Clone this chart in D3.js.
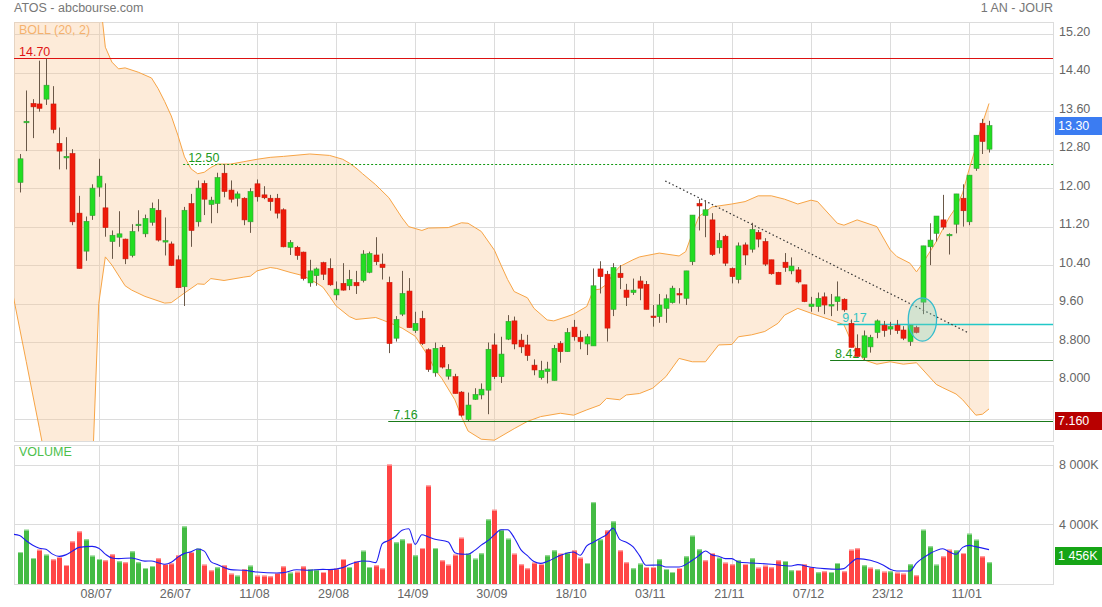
<!DOCTYPE html>
<html>
<head>
<meta charset="utf-8">
<script src="https://cdn.jsdelivr.net/npm/d3@7/dist/d3.min.js"></script>
<style>
  body { margin: 0; background: #fff; }
  svg { display: block; font-family: "Liberation Sans", Arial, sans-serif; }
</style>
</head>
<body>
<div class="chart"></div>
<script>
// ATOS daily, 22/06 -> 16/01 (one value per trading day)
const opens = [12.12,13.37,13.76,13.75,13.85,13.75,12.93,12.64,12.72,11.48,10.69,11.43,12.02,11.59,10.89,10.98,10.94,10.60,11.22,11.05,
  11.29,11.54,10.89,10.84,10.51,9.95,11.68,11.30,12.10,11.66,11.68,12.31,11.96,11.79,11.79,11.30,12.09,11.86,11.79,11.79,
  11.55,10.77,10.77,10.67,10.03,10.18,10.45,10.33,9.78,10.02,9.97,10.04,10.08,10.25,10.61,10.42,10.04,8.88,9.38,9.86,
  9.04,9.29,8.64,8.16,8.69,8.09,8.08,7.76,7.19,7.61,7.70,7.80,8.74,8.08,8.86,9.24,8.84,8.74,8.32,8.06,
  8.19,8.00,8.77,8.60,9.11,8.90,8.76,8.72,10.32,10.21,9.48,10.23,9.88,9.83,10.07,10.00,9.34,9.33,9.50,9.62,
  9.81,9.71,10.47,11.68,11.43,11.34,10.76,11.00,10.33,10.10,10.82,10.73,11.08,10.89,10.51,10.25,10.46,10.28,10.30,9.99,
  9.54,9.54,9.74,9.57,9.64,9.69,9.19,8.67,8.48,8.70,9.00,9.15,9.07,9.15,9.05,8.81,9.10,9.63,10.78,11.06,
  11.34,11.01,11.25,11.79,11.30,12.41,13.35,12.81];
const highs = [12.71,14.03,13.85,14.65,14.70,14.12,13.26,13.06,12.81,11.84,11.41,12.08,12.61,12.10,11.12,11.52,10.95,11.25,11.54,11.45,
  11.70,11.77,11.39,10.89,10.60,11.61,11.88,12.16,12.16,11.82,12.32,12.50,12.16,11.93,11.81,12.00,12.18,12.04,11.86,11.88,
  11.58,10.92,10.80,10.68,10.51,10.35,10.47,10.54,10.06,10.44,10.30,10.28,10.71,10.68,10.98,10.64,10.16,9.34,10.28,10.13,
  9.43,9.45,8.67,8.79,8.74,8.34,8.14,7.78,7.75,7.84,7.94,8.79,8.98,8.91,9.36,9.33,8.97,8.95,8.44,8.41,
  8.39,8.74,8.82,9.09,9.26,9.04,8.97,10.33,10.48,10.28,10.44,10.40,10.01,10.12,10.17,10.07,9.57,9.80,9.79,9.97,
  9.92,10.28,11.44,11.77,11.75,11.48,11.07,11.03,10.35,10.87,10.87,11.28,11.13,10.96,10.51,10.26,10.65,10.56,10.36,9.99,
  9.74,9.83,9.83,9.80,10.06,9.71,9.27,8.96,9.04,8.95,9.27,9.24,9.22,9.26,9.13,9.15,9.14,10.80,11.27,11.42,
  11.86,11.06,11.88,12.08,12.27,13.10,13.44,13.40];
const lows = [11.91,12.77,13.04,13.59,13.73,13.14,12.39,12.39,11.23,10.33,10.49,11.34,11.82,10.99,10.53,10.78,10.42,10.56,11.10,10.98,
  11.22,10.89,10.60,10.38,9.93,9.55,10.78,11.20,11.44,11.27,11.48,11.81,11.70,11.62,11.23,11.07,11.72,11.77,11.53,11.37,
  10.77,10.61,10.51,10.08,9.95,9.97,10.09,9.97,9.67,9.87,9.88,9.80,10.04,10.23,10.40,10.10,8.57,8.81,9.34,9.10,
  8.99,8.74,8.18,8.08,8.25,8.02,7.73,7.25,7.16,7.60,7.61,7.30,8.03,7.95,8.84,8.65,8.57,8.41,8.11,8.02,
  7.94,8.00,8.37,8.60,8.83,8.65,8.53,8.72,9.81,8.81,9.34,9.90,9.55,9.78,9.67,9.48,9.12,9.20,9.20,9.60,
  9.60,9.57,10.40,11.12,10.98,10.59,10.64,10.38,10.02,10.02,10.40,10.66,10.77,10.38,10.20,10.00,10.26,10.21,10.02,9.63,
  9.43,9.43,9.38,9.34,9.45,9.43,8.69,8.50,8.42,8.58,8.88,8.91,8.95,8.97,8.84,8.72,8.98,9.38,10.40,10.89,
  11.14,10.62,11.06,11.20,11.23,12.36,12.71,12.74];
const closes = [12.61,13.39,13.69,13.66,14.14,13.22,12.77,12.66,11.30,10.33,11.31,12.00,12.25,11.18,11.02,11.05,10.53,11.10,11.25,11.37,
  11.58,10.92,10.91,10.39,9.93,11.54,11.12,12.00,11.77,11.75,12.22,11.93,11.77,11.88,11.34,11.93,11.82,11.80,11.72,11.48,
  10.78,10.87,10.60,10.12,10.28,10.32,10.21,9.99,9.90,9.88,10.10,9.97,10.63,10.64,10.47,10.35,8.77,9.27,9.81,9.10,
  9.19,8.77,8.23,8.67,8.28,8.23,7.73,7.28,7.49,7.71,7.82,8.65,8.08,8.55,9.23,8.76,8.70,8.52,8.22,8.21,
  8.24,8.67,8.60,9.00,8.91,8.81,8.91,9.97,10.16,9.09,10.35,10.14,9.73,9.88,9.92,9.48,9.33,9.57,9.70,9.92,
  9.78,10.28,11.44,11.63,11.55,10.62,10.91,10.44,10.16,10.80,10.61,11.14,10.94,10.42,10.22,10.00,10.35,10.38,10.05,9.64,
  9.59,9.71,9.57,9.58,9.74,9.47,8.69,8.50,8.93,8.90,9.24,9.04,9.12,9.04,8.88,9.15,9.00,10.80,10.92,11.42,
  11.19,11.04,11.88,11.53,12.27,13.10,12.97,13.30];
// volume in thousands of shares
const volumes = [2138,3633,1737,2298,1964,1650,1804,1269,2852,3520,2986,1897,1670,1583,1984,1516,1450,2184,1450,1069,
  1202,1717,1336,1383,1917,3854,2138,2365,1296,915,1116,1249,695,561,982,1229,561,561,514,735,
  1182,762,828,1182,982,962,802,1002,1029,1670,1136,1516,2230,1136,1249,1049,7996,2786,2986,2739,
  1917,2405,6593,2405,1583,1296,1964,3100,2031,1697,2051,4322,4970,3634,3033,2031,1316,1049,1430,1336,
  1917,2251,2031,2097,2251,1764,1403,5478,2986,3587,4188,2251,1450,1049,1363,1136,1136,1650,1002,802,
  1069,1850,3233,2318,1583,2071,1764,1430,1316,1583,1336,1717,1096,1229,1116,1583,1536,915,935,1316,
  1136,782,848,802,1403,848,2298,2385,1249,1096,982,828,848,762,695,1316,581,3634,2518,1296,
  1850,2298,2251,2071,3367,2966,1850,1456];

// Bollinger (20, 2): [day index, price]
const bollUpper = [[-1,17.5],[11,17.5],[12,16.2],[13,14.93],[14,14.62],[15,14.48],[16,14.50],[18,14.41],[20,14.29],[21,14.07],
  [22,13.80],[23,13.50],[24,13.10],[25,12.65],[26,12.40],[27,12.30],[28,12.33],[29,12.43],[30,12.50],[32,12.50],[34,12.55],
  [36,12.60],[38,12.64],[40,12.66],[44,12.71],[47,12.68],[49,12.60],[50,12.52],[51,12.42],[52,12.30],[54,12.07],[56,11.80],
  [58,11.38],[59,11.20],[61,11.12],[62,11.17],[65,11.18],[67,11.28],[68,11.27],[70,11.10],[72,10.71],[73,10.40],[74,10.10],
  [75,9.85],[77,9.72],[78,9.50],[80,9.26],[81,9.24],[83,9.33],[84,9.38],[86,9.54],[87,9.88],[88,9.90],[89,10.00],[90,10.22],
  [91,10.37],[93,10.51],[94,10.57],[97,10.65],[100,10.59],[101,10.68],[102,11.06],[103,11.41],[105,11.61],[108,11.67],
  [110,11.72],[112,11.84],[114,11.84],[116,11.77],[118,11.67],[120,11.75],[121,11.72],[124,11.27],[125,11.23],[127,11.34],
  [130,11.20],[132,10.72],[133,10.58],[135,10.44],[136,10.26],[137,10.45],[139,10.89],[140,11.15],[141,11.40],[142,11.60],
  [143,11.90],[144,12.40],[145,12.85],[146,13.35],[147,13.76]];
const bollLower = [[-1,9.78],[0,9.09],[1,8.40],[2,7.70],[3,7.01],[4,6.3],[11,6.0],[12,9.6],[13,10.57],[14,10.40],[16,9.97],
  [17,9.88],[19,9.75],[22,9.61],[23,9.62],[24,9.72],[25,9.82],[27,10.01],[28,10.00],[29,10.12],[31,10.08],[34,10.15],
  [35,10.17],[36,10.28],[38,10.35],[39,10.33],[41,10.25],[43,10.18],[45,10.03],[46,9.94],[47,9.75],[48,9.55],[50,9.33],
  [51,9.27],[54,9.31],[55,9.26],[57,9.15],[58,9.09],[60,8.92],[62,8.50],[63,8.22],[64,8.05],[66,7.60],[67,7.25],[68,6.95],
  [70,6.78],[72,6.76],[75,7.00],[77,7.15],[79,7.25],[82,7.32],[84,7.28],[86,7.39],[88,7.49],[89,7.63],[91,7.60],[92,7.70],
  [94,7.73],[96,7.84],[98,8.08],[100,8.46],[102,8.39],[104,8.39],[106,8.74],[108,8.75],[109,8.91],[111,8.95],[113,9.02],
  [115,9.19],[116,9.36],[118,9.50],[120,9.40],[123,9.26],[125,9.16],[126,8.85],[128,8.43],[130,8.34],[132,8.39],[134,8.34],
  [136,8.37],[137,8.22],[139,7.92],[140,7.85],[142,7.72],[143,7.60],[145,7.28],[146,7.30],[147,7.41]];
// volume moving average: [day index, K]
const volAverage = [[-1,3330],[0,3250],[1,2900],[2,2600],[3,2400],[4,2320],[5,2000],[6,1850],[7,1950],[8,2200],[9,2450],
  [11,2520],[12,2400],[13,2000],[14,1740],[15,1700],[17,1740],[19,1530],[20,1540],[21,1420],[22,1320],[23,1450],[24,1800],
  [25,2050],[26,2150],[27,2340],[28,2200],[29,1500],[30,1300],[31,1100],[32,960],[34,920],[36,800],[39,740],[40,760],
  [42,950],[44,920],[46,980],[47,963],[49,1097],[50,1300],[51,1450],[52,1542],[53,1520],[54,1431],[55,2700],[56,2920],
  [57,3200],[58,3600],[59,3700],[60,2654],[61,3300],[62,3150],[63,3000],[65,2809],[66,2100],[67,2000],[68,1987],[69,2253],
  [70,2600],[71,2900],[72,3300],[73,3632],[74,3632],[75,3100],[76,2300],[77,1900],[78,1500],[79,1380],[80,1500],[82,1920],
  [84,2142],[85,1920],[86,2550],[87,2800],[88,3050],[89,3300],[90,3743],[91,2990],[92,2800],[93,2500],[94,1900],[95,1253],
  [97,1275],[98,1141],[100,1141],[102,1586],[103,1900],[104,2209],[105,1950],[106,1854],[107,1697],[108,1697],[109,1475],
  [111,1408],[114,1319],[117,1208],[118,1297],[120,1120],[122,1030],[124,986],[125,1030],[126,1400],[127,1697],[129,1586],
  [131,1253],[132,986],[133,875],[135,875],[136,1400],[137,1750],[138,2031],[140,2364],[141,2142],[142,1987],[143,2450],
  [144,2587],[145,2500],[146,2400],[147,2300]];

const tickIndex = [12,24,36,48,60,72,84,96,108,120,132,144];
const tickLabels = ["08/07","26/07","11/08","29/08","14/09","30/09","18/10","03/11","21/11","07/12","23/12","11/01"];
const priceTicks = [15.2,14.4,13.6,12.8,12.0,11.2,10.4,9.6,8.8,8.0,7.2];
const priceTickLabels = ["15.20","14.40","13.60","12.80","12.00","11.20","10.40","9.60","8.800","8.000","7.200"];
const volTicks = [8000,4000];
const volTickLabels = ["8 000K","4 000K"];

// drawn levels: price, first day index, label
const levelPrices = [14.70, 12.50, 7.16, 9.17, 8.42];
const levelStarts = [-1, 24.8, 55.9, 124, 122.9];
const levelLabels = ["14.70","12.50","7.16","9.17","8.42"];
const trendLine = [[97.9, 12.15], [143.9, 8.99]];

class CandleChart
{
    constructor(wrapperClass)
    {
        this.width = 1102;
        this.height = 607;
        this.left = 14;
        this.right = 1053;
        this.price = { top:22, bottom:441 };
        this.vol = { top:444.6, bottom:584 };

        this.svg = d3.select(`.${wrapperClass}`).append('svg')
            .attr('width', this.width)
            .attr('height', this.height);

        this.x = d3.scaleLinear().domain([-0.85, 156.7]).range([this.left, this.right]);
        this.y = d3.scaleLinear().domain([6.743, 15.454]).range([this.price.bottom, this.price.top]);
        this.yv = d3.scaleLinear().domain([0, 9333]).range([this.vol.bottom, this.vol.top]);

        this.setup();
        this.plotPrice();
        this.plotVolume();
        this.plotAxes();
    }

    setup()
    {
        const defs = this.svg.append('defs');
        defs.append('clipPath').attr('id','clipPrice')
            .append('rect')
            .attr('x', this.left).attr('y', this.price.top)
            .attr('width', this.right - this.left).attr('height', this.price.bottom - this.price.top);
        defs.append('clipPath').attr('id','clipVol')
            .append('rect')
            .attr('x', this.left).attr('y', this.vol.top)
            .attr('width', this.right - this.left).attr('height', this.vol.bottom - this.vol.top);

        const grid = this.svg.append('g').attr('class','grid')
            .attr('stroke','#dcdcdc').attr('stroke-width',1).attr('shape-rendering','crispEdges');

        grid.selectAll('.hp').data(priceTicks).enter().append('line')
            .attr('x1', this.left).attr('x2', this.right)
            .attr('y1', d => Math.round(this.y(d)) + 0.5).attr('y2', d => Math.round(this.y(d)) + 0.5);

        grid.selectAll('.hv').data(volTicks).enter().append('line')
            .attr('x1', this.left).attr('x2', this.right)
            .attr('y1', d => Math.round(this.yv(d)) + 0.5).attr('y2', d => Math.round(this.yv(d)) + 0.5);

        [[this.price.top, this.price.bottom],[this.vol.top, this.vol.bottom]].forEach(([t,b]) => {
            grid.selectAll(null).data(tickIndex).enter().append('line')
                .attr('x1', d => Math.round(this.x(d)) + 0.5).attr('x2', d => Math.round(this.x(d)) + 0.5)
                .attr('y1', t).attr('y2', b);
            grid.append('rect')
                .attr('x', this.left + 0.5).attr('y', Math.round(t) + 0.5)
                .attr('width', this.right - this.left).attr('height', Math.round(b - t))
                .attr('fill','none');
        });
    }

    plotPrice()
    {
        const g = this.svg.append('g').attr('clip-path','url(#clipPrice)');
        const pt = d => [this.x(d[0]), this.y(d[1])];

        const poly = bollUpper.map(pt).concat(bollLower.slice().reverse().map(pt));
        g.append('path')
            .attr('d', d3.line()(poly) + 'Z')
            .attr('fill','rgb(250,200,150)').attr('fill-opacity',0.36);

        [bollUpper, bollLower].forEach(band => {
            g.append('path')
                .attr('d', d3.line()(band.map(pt)))
                .attr('fill','none').attr('stroke','#f7a445').attr('stroke-width',1);
        });

        // levels
        const levelColor = ['#dd1111','#119911','#1a7a1a','#22c8c8','#1a7a1a'];
        const lv = g.append('g');
        levelPrices.forEach((p,i) => {
            const yy = Math.round(this.y(p)) + 0.5;
            lv.append('line')
                .attr('x1', this.x(levelStarts[i])).attr('x2', this.right)
                .attr('y1', yy).attr('y2', yy)
                .attr('stroke', levelColor[i]).attr('stroke-width', i == 3 ? 1.3 : 1)
                .attr('stroke-dasharray', i == 1 ? '2,2' : null);
            lv.append('text')
                .attr('x', Math.max(this.x(levelStarts[i]), this.left) + 5)
                .attr('y', yy - 6)
                .attr('dominant-baseline','middle')
                .attr('font-size', 12.5)
                .attr('fill', i == 3 ? '#33c4c4' : (i == 0 ? '#e01515' : '#229922'))
                .text(levelLabels[i]);
        });

        g.append('line')
            .attr('x1', this.x(trendLine[0][0])).attr('y1', this.y(trendLine[0][1]))
            .attr('x2', this.x(trendLine[1][0])).attr('y2', this.y(trendLine[1][1]))
            .attr('stroke','#333').attr('stroke-width',1.2).attr('stroke-dasharray','1.5,2.5');

        // candles
        const idx = d3.range(closes.length);
        const candles = g.append('g').selectAll('g').data(idx).enter().append('g');
        const bw = 5;

        candles.append('line')
            .attr('x1', i => Math.round(this.x(i)) + 0.5).attr('x2', i => Math.round(this.x(i)) + 0.5)
            .attr('y1', i => this.y(highs[i])).attr('y2', i => this.y(lows[i]))
            .attr('stroke','#6a5848').attr('stroke-width',1);

        candles.append('rect')
            .attr('x', i => Math.round(this.x(i)) - 2)
            .attr('width', bw)
            .attr('y', i => this.y(Math.max(opens[i], closes[i])))
            .attr('height', i => Math.max(1.5, Math.abs(this.y(opens[i]) - this.y(closes[i]))))
            .attr('fill', i => closes[i] >= opens[i] ? '#22dd22' : '#ee1a0a')
            .attr('stroke', i => closes[i] >= opens[i] ? '#389c38' : '#cc1a0a')
            .attr('stroke-width', 0.6);

        // breakout ellipse
        const cx = this.x(136.9), cy = this.y(9.27);
        g.append('ellipse')
            .attr('cx', cx).attr('cy', cy)
            .attr('rx', this.x(139.05) - cx).attr('ry', this.y(8.82) - cy)
            .attr('fill','rgb(120,210,190)').attr('fill-opacity',0.3)
            .attr('stroke','#35bccc').attr('stroke-width',1.3);

        this.svg.append('text')
            .attr('x', 19).attr('y', 31).attr('dominant-baseline','middle')
            .attr('font-size', 12.5).attr('fill','#f5b26e')
            .text('BOLL (20, 2)');
    }

    plotVolume()
    {
        const g = this.svg.append('g').attr('clip-path','url(#clipVol)');
        const idx = d3.range(volumes.length);
        const up = i => i == 0 ? closes[0] >= opens[0] : closes[i] >= closes[i - 1];
        const base = this.yv(0);

        g.selectAll('rect').data(idx).enter().append('rect')
            .attr('x', i => Math.round(this.x(i)) - 2)
            .attr('width', 5)
            .attr('y', i => this.yv(volumes[i]))
            .attr('height', i => base - this.yv(volumes[i]))
            .attr('fill', i => up(i) ? '#44bb44' : '#ff4545');

        g.selectAll('.cap').data(idx).enter().append('rect')
            .attr('x', i => Math.round(this.x(i)) - 2)
            .attr('width', 5)
            .attr('y', i => this.yv(volumes[i]))
            .attr('height', 1)
            .attr('fill', i => up(i) ? '#9ddc9d' : '#ffaaaa');

        g.append('path')
            .attr('d', d3.line().curve(d3.curveMonotoneX)(volAverage.map(d => [this.x(d[0]), this.yv(d[1])])))
            .attr('fill','none').attr('stroke','#1d1df0').attr('stroke-width',1.1);

        this.svg.append('text')
            .attr('x', 19).attr('y', 453).attr('dominant-baseline','middle')
            .attr('font-size', 12.5).attr('fill','#4cbf4c')
            .text('VOLUME');
    }

    plotAxes()
    {
        const txt = '#666';

        const yAxis = d3.axisRight(this.y).tickValues(priceTicks)
            .tickFormat((d,i) => priceTickLabels[i]).tickSize(0).tickPadding(6);
        const ya = this.svg.append('g').attr('transform', `translate(${this.right},0)`).call(yAxis);
        ya.select('.domain').remove();
        ya.selectAll('text').attr('fill', txt).attr('font-size', 12.5)
            .attr('font-family','"Liberation Sans", Arial, sans-serif').attr('dy','0.1em');

        const vAxis = d3.axisRight(this.yv).tickValues(volTicks)
            .tickFormat((d,i) => volTickLabels[i]).tickSize(0).tickPadding(6);
        const va = this.svg.append('g').attr('transform', `translate(${this.right},0)`).call(vAxis);
        va.select('.domain').remove();
        va.selectAll('text').attr('fill', txt).attr('font-size', 12.5)
            .attr('font-family','"Liberation Sans", Arial, sans-serif');

        const xAxis = d3.axisBottom(this.x).tickValues(tickIndex)
            .tickFormat((d,i) => tickLabels[i]).tickSize(0).tickPadding(5);
        const xa = this.svg.append('g').attr('transform', `translate(-3,${this.vol.bottom})`).call(xAxis);
        xa.select('.domain').remove();
        xa.selectAll('text').attr('fill', txt).attr('font-size', 12.5)
            .attr('font-family','"Liberation Sans", Arial, sans-serif');

        // value boxes on the right axis
        const boxes = [
            { y: this.y(closes[closes.length - 1]), fill:'#3b7cf2', label:'13.30' },
            { y: this.y(lows[68]), fill:'#b80000', label:'7.160' },
            { y: this.yv(volumes[volumes.length - 1]) - 6, fill:'#16a516', label:'1 456K' }
        ];
        const bx = this.svg.append('g').selectAll('g').data(boxes).enter().append('g');
        bx.append('rect')
            .attr('x', this.right + 2).attr('y', d => Math.round(d.y) - 9)
            .attr('width', this.width - this.right - 2).attr('height', 18)
            .attr('fill', d => d.fill);
        bx.append('text')
            .attr('x', this.right + 5).attr('y', d => Math.round(d.y) + 0.5)
            .attr('dominant-baseline','middle')
            .attr('font-size', 12.5).attr('fill','#fff')
            .text(d => d.label);

        this.svg.append('text')
            .attr('x', 14).attr('y', 9).attr('dominant-baseline','middle')
            .attr('font-size', 12.5).attr('fill','#777')
            .text('ATOS - abcbourse.com');
        this.svg.append('text')
            .attr('x', this.right).attr('y', 9).attr('dominant-baseline','middle')
            .attr('text-anchor','end')
            .attr('font-size', 12.5).attr('fill','#777')
            .text('1 AN - JOUR');
    }
}

new CandleChart('chart');
</script>
</body>
</html>
